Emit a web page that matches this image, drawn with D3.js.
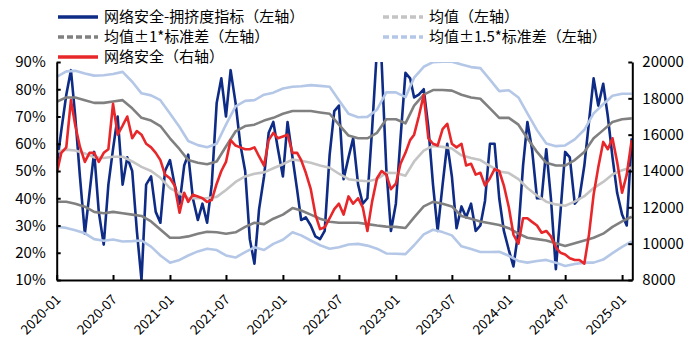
<!DOCTYPE html>
<html><head><meta charset="utf-8">
<script src="https://cdn.jsdelivr.net/npm/d3@7"></script>
<style>body{margin:0;background:#fff}svg{display:block}</style>
</head><body>
<svg id="chart" width="698" height="363"></svg>
<script>
// 网络安全-拥挤度指标 (%), half-monthly (1st & 16th of each month), 2020-01-01 .. 2025-02-01
const crowding = [52,65,78,87,70,48,27,42,57,35,23,45,58,70,45,55,50,28,10,45,
48,35,31,50,54,45,38,52,56,40,32,38,31,45,75,84,70,87,75,60,
50,25,16,36,48,64,68,58,48,68,55,43,32,33,30,26,25,28,56,72,
74,47,55,62,45,38,40,65,95,90,51,28,38,62,86,84,77,78,80,66,
45,28,45,60,48,29,37,33,38,28,30,39,60,60,40,28,21,15,28,52,
68,58,40,40,58,40,14,35,57,55,38,40,52,68,84,74,82,70,55,42,
34,30,62];
// 网络安全 index level (right axis), same dates
const price = [13870,15000,15300,17900,16500,15340,14500,15000,15000,14500,15000,15200,17700,16000,16500,17000,15800,16200,16000,15500,
15300,15000,14600,13800,13600,13200,11700,12800,12300,12700,12600,12500,12300,12400,13300,14000,14500,15700,15400,15300,
15200,15200,15300,14800,14300,15700,16100,15800,15900,16000,15000,15000,14600,13900,13000,11600,10800,10900,11400,11900,
12200,11600,12600,12200,12500,12000,10700,12300,13600,14000,13800,13000,13300,14400,15000,15700,16000,17000,18200,15800,
15500,15400,16300,16600,15500,15300,15500,14300,14400,13800,13900,13200,13600,14100,14000,13200,12000,10500,10000,11400,
11400,11200,11000,10600,10700,10400,9800,9500,9400,9200,9100,9100,8900,10500,12700,14200,15600,15200,15800,14500,
12800,13800,15700];
// rolling mean and standard deviation of the crowding indicator (%), monthly, 2020-01 .. 2025-02
const meanVals = [57.05,57.85,57.5,56.45,55.0,54.75,55.25,55.25,53.5,51.5,50,47.5,43.75,41.75,40,40,40.1,40.5,43,46,
48,49,49.5,51,52.5,54.2,53.75,53,52,51.2,49,47,46.5,46.25,47,49.3,49.25,48.3,53.5,57.5,
59.2,58.85,58.25,55.75,54.75,54,51.9,49.85,49.25,47,43.75,41,38.75,37.75,37.25,38.75,40.75,43.75,46,48.75,
50.25,51.25];
const stdVals = [18.35,19.15,19.5,19.55,20,20.25,20.25,20.75,19.5,18,18.5,19,18.25,16.25,14,13,12.4,13,16,18.5,
18.5,18,19,18.5,18.5,17.8,18.25,19,19.5,19.8,18,16,15.5,15.75,17,19.7,19.75,19.2,20.5,20.5,
20.5,20.85,21.25,22.25,22.25,22.5,21.1,19.65,20.25,20,18.25,16,14.25,14.25,14.75,15.25,16.25,18.25,19,19.25,
18.75,18.05];
const xTickLabels = ["2020-01","2020-07","2021-01","2021-07","2022-01","2022-07","2023-01","2023-07","2024-01","2024-07","2025-01"];
const leftTicks = [10,20,30,40,50,60,70,80,90];
const rightTicks = [8000,10000,12000,14000,16000,18000,20000];

const halfMonthDates = d3.range(crowding.length).map(j => new Date(2020, Math.floor(j/2), j % 2 === 0 ? 1 : 16));
const monthDates = d3.range(meanVals.length).map(m => new Date(2020, m, 1));
const tickDates = xTickLabels.map(s => { const [y, m] = s.split("-").map(Number); return new Date(y, m - 1, 1); });

const L = 56.7, R = 632.3, T = 62, B = 280;
const svg = d3.select("#chart");
const font = "'Noto Sans CJK SC', 'Noto Sans', sans-serif";

const x = d3.scaleTime().domain([new Date(2020,0,1), new Date(2025,1,3)]).range([L, R]);
const yL = d3.scaleLinear().domain([10, 90]).range([B, T]);
const yR = d3.scaleLinear().domain([8000, 20000]).range([B, T]);

svg.append("defs").append("clipPath").attr("id","plot")
  .append("rect").attr("x", L).attr("y", T).attr("width", R - L).attr("height", B - T);

const g = svg.append("g").attr("clip-path","url(#plot)");
const lineL = d3.line().x(d => x(d[0])).y(d => yL(d[1]));
const lineR = d3.line().x(d => x(d[0])).y(d => yR(d[1]));

const series = [
  {data: d3.zip(halfMonthDates, crowding), color:"#0E2B85", w:2.6, fn:lineL},
  {data: d3.zip(monthDates, meanVals), color:"#C4C4C4", w:2.6, fn:lineL},
  {data: d3.zip(monthDates, meanVals.map((m,i)=>m+stdVals[i])), color:"#808080", w:2.6, fn:lineL},
  {data: d3.zip(monthDates, meanVals.map((m,i)=>m-stdVals[i])), color:"#808080", w:2.6, fn:lineL},
  {data: d3.zip(monthDates, meanVals.map((m,i)=>m+1.5*stdVals[i])), color:"#B4C7E7", w:2.6, fn:lineL},
  {data: d3.zip(monthDates, meanVals.map((m,i)=>m-1.5*stdVals[i])), color:"#B4C7E7", w:2.6, fn:lineL},
  {data: d3.zip(halfMonthDates, price), color:"#E8272B", w:2.6, fn:lineR}
];
series.forEach(s => g.append("path").attr("d", s.fn(s.data)).attr("fill","none")
  .attr("stroke", s.color).attr("stroke-width", s.w).attr("stroke-linejoin","round"));

// axes
const axL = svg.append("g").attr("transform",`translate(${L},0)`)
  .call(d3.axisLeft(yL).tickValues(leftTicks).tickSize(-4).tickSizeOuter(0).tickPadding(11).tickFormat(d => d + "%"));
const axR = svg.append("g").attr("transform",`translate(${R},0)`)
  .call(d3.axisRight(yR).tickValues(rightTicks).tickSize(-4).tickSizeOuter(0).tickPadding(10).tickFormat(d3.format("d")));
const axB = svg.append("g").attr("transform",`translate(0,${B})`)
  .call(d3.axisBottom(x).tickValues(tickDates).tickSize(-5).tickSizeOuter(0).tickFormat((d,i) => xTickLabels[i]));
[axL, axR, axB].forEach(a => {
  a.selectAll("path.domain").attr("stroke","#000").attr("stroke-width",2);
  a.selectAll(".tick line").attr("stroke","#000").attr("stroke-width",2);
  a.selectAll("text").attr("font-family", font).attr("font-size", 15).attr("fill","#000");
});
axB.selectAll("text").attr("font-size",13.5).attr("text-anchor","end")
  .attr("transform","translate(1,17) rotate(-45)").attr("y",0).attr("dy","0.35em");

// legend
const legend = [
  {label:"网络安全-拥挤度指标（左轴）", color:"#0E2B85", dash:null, x:58, y:17},
  {label:"均值（左轴）", color:"#C4C4C4", dash:"6,3", x:383, y:17},
  {label:"均值±1*标准差（左轴）", color:"#808080", dash:"6,3", x:58, y:37},
  {label:"均值±1.5*标准差（左轴）", color:"#B4C7E7", dash:"6,3", x:383, y:37},
  {label:"网络安全（右轴）", color:"#E8272B", dash:null, x:58, y:57}
];
const lg = svg.append("g");
legend.forEach(d => {
  lg.append("line").attr("x1", d.x).attr("x2", d.x + 40).attr("y1", d.y).attr("y2", d.y)
    .attr("stroke", d.color).attr("stroke-width", 3.5).attr("stroke-dasharray", d.dash);
  lg.append("text").attr("x", d.x + 46).attr("y", d.y).attr("dy","0.35em")
    .attr("font-family", font).attr("font-size", 15).attr("fill","#000").text(d.label);
});
</script>
</body></html>
